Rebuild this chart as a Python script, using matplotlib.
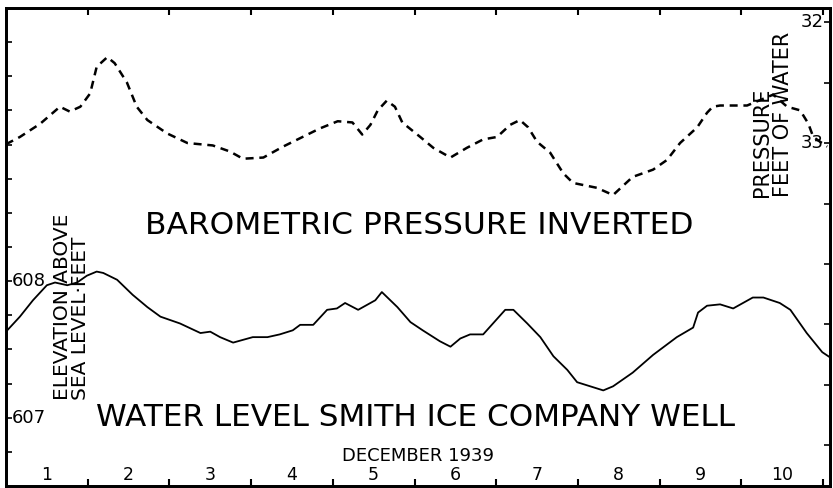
import numpy as np
import matplotlib
matplotlib.use('Agg')
import matplotlib.pyplot as plt
import matplotlib.transforms as mtransforms

# barometric pressure (feet of water, plotted inverted) - days since Dec 1, 1939
days_baro = [0.00, 0.17, 0.42, 0.66, 0.78, 0.91, 1.03, 1.11, 1.24, 1.33, 1.48, 1.60,
             1.73, 1.97, 2.22, 2.53, 2.74, 2.90, 3.15, 3.39, 3.60, 3.84, 4.06, 4.24,
             4.36, 4.46, 4.55, 4.66, 4.76, 4.85, 5.07, 5.23, 5.44, 5.64, 5.84, 6.01,
             6.17, 6.29, 6.39, 6.50, 6.66, 6.82, 6.94, 7.23, 7.43, 7.67, 7.92, 8.09,
             8.25, 8.46, 8.58, 8.65, 8.74, 9.07, 9.39, 9.56, 9.72, 9.82, 9.88, 10.05]
pressure_ft = [33.01, 32.95, 32.84, 32.70, 32.74, 32.70, 32.59, 32.37, 32.29, 32.34, 32.50, 32.70,
               32.81, 32.92, 33.00, 33.02, 33.07, 33.13, 33.12, 33.03, 32.96, 32.88, 32.82, 32.83,
               32.93, 32.85, 32.73, 32.65, 32.70, 32.83, 32.95, 33.04, 33.12, 33.04, 32.97, 32.95,
               32.85, 32.81, 32.87, 32.99, 33.08, 33.25, 33.33, 33.37, 33.43, 33.28, 33.22, 33.14,
               33.00, 32.87, 32.75, 32.70, 32.69, 32.69, 32.60, 32.70, 32.73, 32.84, 32.95, 33.03]

# water level, Smith Ice Company well (feet above sea level)
days_well = [0.00, 0.17, 0.33, 0.50, 0.60, 0.75, 0.87, 0.99, 1.11, 1.19, 1.36, 1.55,
             1.73, 1.89, 2.13, 2.38, 2.50, 2.62, 2.78, 3.02, 3.20, 3.35, 3.51, 3.60,
             3.76, 3.93, 4.05, 4.15, 4.31, 4.46, 4.52, 4.60, 4.79, 4.95, 5.10, 5.31,
             5.44, 5.56, 5.68, 5.84, 5.96, 6.11, 6.21, 6.38, 6.54, 6.70, 6.87, 6.99,
             7.15, 7.31, 7.43, 7.67, 7.92, 8.21, 8.41, 8.47, 8.58, 8.74, 8.90, 9.14,
             9.27, 9.47, 9.60, 9.80, 9.99, 10.09]
elevation_ft = [607.63, 607.74, 607.86, 607.97, 607.99, 607.97, 607.99, 608.04, 608.07, 608.06, 608.01, 607.90,
                607.81, 607.74, 607.69, 607.62, 607.63, 607.59, 607.55, 607.59, 607.59, 607.61, 607.64, 607.68,
                607.68, 607.79, 607.80, 607.84, 607.79, 607.84, 607.86, 607.92, 607.81, 607.70, 607.64, 607.56,
                607.52, 607.58, 607.61, 607.61, 607.69, 607.79, 607.79, 607.69, 607.59, 607.45, 607.35, 607.26,
                607.23, 607.20, 607.23, 607.33, 607.46, 607.59, 607.66, 607.77, 607.82, 607.83, 607.80, 607.88,
                607.88, 607.84, 607.79, 607.62, 607.48, 607.44]

day_labels = ['1', '2', '3', '4', '5', '6', '7', '8', '9', '10']
elev_labels = [607, 608]
press_labels = [32, 33]

plt.rcParams['font.family'] = ['DejaVu Sans']

fig = plt.figure(figsize=(8.33, 4.88), dpi=100)
W, H = 833, 488
ax = fig.add_axes([6 / W, 2 / H, 824 / W, 478 / H])
ax2 = ax.twinx()

ax.set_xlim(0, 10.085)
ax.set_ylim(606.5, 610.0)
ax2.set_ylim(35.835, 31.884)  # inverted pressure scale

ax.plot(days_well, elevation_ft, color='black', lw=1.3, solid_joinstyle='round')
ax2.plot(days_baro, pressure_ft, color='black', lw=1.8, linestyle=(0, (3.2, 2.3)))

for a in (ax, ax2):
    for s in a.spines.values():
        s.set_linewidth(2)
        s.set_color('black')

ax.set_xticks(range(1, 11))
ax.tick_params(axis='x', direction='in', top=True, length=5, width=1.5, labelbottom=False)
ax.set_yticks(np.arange(606.75, 610.0, 0.25))
ax.tick_params(axis='y', direction='in', length=4, width=1.2, labelleft=False)
ax2.set_yticks(np.arange(32.0, 35.8, 0.5))
ax2.tick_params(axis='y', direction='in', length=4, width=1.2, labelright=False)


def px(x, y):
    # pixel position in the figure -> axes fraction
    return (x - 6) / 824, (486 - y) / 478


tx = mtransforms.blended_transform_factory(ax.transData, ax.transAxes)
for i, lab in enumerate(day_labels):
    ax.text(i + 0.5, px(0, 475)[1], lab, transform=tx, ha='center', va='center', fontsize=12.5)

ty = mtransforms.blended_transform_factory(ax.transAxes, ax.transData)
for v in elev_labels:
    ax.text(px(12, 0)[0], v, str(v), transform=ty, ha='left', va='center', fontsize=13)
ty2 = mtransforms.blended_transform_factory(ax2.transAxes, ax2.transData)
for v in press_labels:
    ax2.text(px(824, 0)[0], v, str(v), transform=ty2, ha='right', va='center', fontsize=13)

ax.text(*px(419, 225), 'BAROMETRIC PRESSURE INVERTED', transform=ax.transAxes,
        ha='center', va='center', fontsize=22.5)
ax.text(*px(415, 418), 'WATER LEVEL SMITH ICE COMPANY WELL', transform=ax.transAxes,
        ha='center', va='center', fontsize=22.4)
ax.text(*px(418, 456), 'DECEMBER 1939', transform=ax.transAxes,
        ha='center', va='center', fontsize=13)
ax.text(*px(62, 400), 'ELEVATION ABOVE', transform=ax.transAxes, rotation=90,
        ha='center', va='bottom', fontsize=14.5)
ax.text(*px(80, 400), 'SEA LEVEL·FEET', transform=ax.transAxes, rotation=90,
        ha='center', va='bottom', fontsize=14.5)
ax.text(*px(762, 197), 'PRESSURE', transform=ax.transAxes, rotation=90,
        ha='center', va='bottom', fontsize=15)
ax.text(*px(783, 197), 'FEET OF WATER', transform=ax.transAxes, rotation=90,
        ha='center', va='bottom', fontsize=15)

fig.savefig('out.png', dpi=100)
